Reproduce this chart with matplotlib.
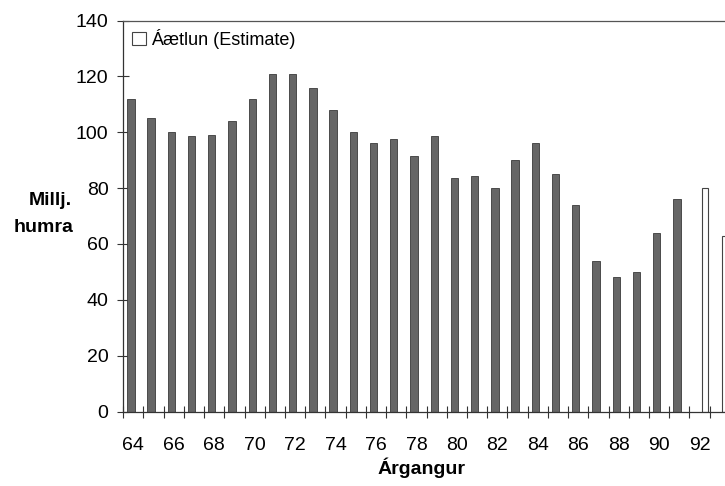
import matplotlib
matplotlib.use("Agg")
import matplotlib.pyplot as plt
from matplotlib.patches import Patch

plt.rcParams['font.family'] = ['Liberation Sans', 'DejaVu Sans']

years = list(range(64, 92))
measured = [112, 105, 100, 98.5, 99, 104, 112, 121, 121, 116, 108, 100, 96, 97.5,
            91.5, 98.5, 83.5, 84.5, 80, 90, 96, 85, 74, 54, 48, 50, 64, 76]
est_years = [92, 93]
estimate = [80, 63]
label_years = list(range(64, 93, 2))
yticks = [0, 20, 40, 60, 80, 100, 120, 140]

fig = plt.figure(figsize=(7.25, 4.86), dpi=100)
ax = fig.add_axes([123 / 725, 1 - 411.5 / 486, 1 - 123 / 725, (411.5 - 20.5) / 486])

ax.bar([y - 0.12 for y in years], measured, width=0.36, color='#666666',
       edgecolor='#3a3a3a', linewidth=0.6, zorder=2)
ax.bar([y + 0.26 for y in est_years], estimate, width=0.28, color='white',
       edgecolor='#444444', linewidth=0.8, zorder=2)

ax.set_xlim(63.49, 93.26)
ax.set_ylim(0, 140)
ax.set_yticks(yticks)
ax.set_yticklabels([str(v) for v in yticks], fontsize=14)

ax.set_xticks([y + 0.5 for y in range(63, 93)])
ax.set_xticklabels([])
ax.set_xticks(label_years, minor=True)
ax.set_xticklabels([str(y) for y in label_years], minor=True, fontsize=14)
ax.tick_params(axis='x', which='major', direction='inout', length=9, width=0.8, color='#333333')
ax.tick_params(axis='x', which='minor', length=0, pad=18)
ax.tick_params(axis='y', direction='inout', length=9, width=0.8, pad=6, color='#333333')

for s in ['left', 'bottom', 'top']:
    ax.spines[s].set_color('#333333')
    ax.spines[s].set_linewidth(0.9)
ax.spines['top'].set_color('#555555')
ax.spines['right'].set_visible(False)

fig.text(421 / 725, 1 - 468 / 486, 'Árgangur', ha='center', va='center',
         fontsize=14, fontweight='bold')
fig.text(50 / 725, 1 - 200 / 486, 'Millj.', ha='center', va='center',
         fontsize=14, fontweight='bold')
fig.text(44 / 725, 1 - 228 / 486, 'humra', ha='center', va='center',
         fontsize=14, fontweight='bold')

handle = Patch(facecolor='white', edgecolor='#444444', linewidth=0.8)
ax.legend([handle], ['Áætlun (Estimate)'], loc='upper left', frameon=False,
          bbox_to_anchor=(132 / 725, 1 - 29 / 486), bbox_transform=fig.transFigure,
          fontsize=13, handlelength=0.75, handleheight=0.75, handletextpad=0.3,
          borderaxespad=0, borderpad=0)

fig.savefig('out.png', dpi=100)
